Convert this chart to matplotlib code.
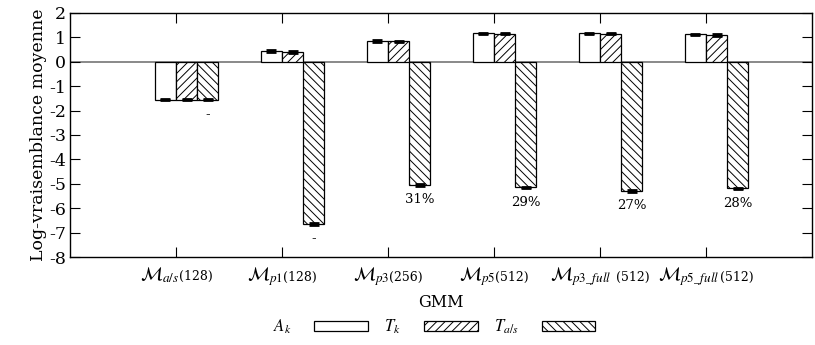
import numpy as np
import matplotlib
matplotlib.use('Agg')
from matplotlib import pyplot as plt
from matplotlib.offsetbox import TextArea, HPacker, AnnotationBbox

plt.rcParams['font.family'] = ['DejaVu Serif']
plt.rcParams['mathtext.fontset'] = 'stix'
plt.rcParams['axes.unicode_minus'] = False
plt.rcParams['hatch.linewidth'] = 0.7

# données
modeles = [r'$\mathcal{M}_{a/s}$', r'$\mathcal{M}_{p1}$', r'$\mathcal{M}_{p3}$',
           r'$\mathcal{M}_{p5}$', r'$\mathcal{M}_{p3\_full}$', r'$\mathcal{M}_{p5\_full}$']
tailles = ['(128)', '(128)', '(256)', '(512)', ' (512)', '(512)']
A_k = [-1.55, 0.45, 0.86, 1.17, 1.16, 1.12]
T_k = [-1.55, 0.40, 0.84, 1.15, 1.15, 1.09]
T_as = [-1.55, -6.64, -5.04, -5.15, -5.29, -5.19]
err = [0.03, 0.03, 0.03, 0.03, 0.03, 0.03]
etiquettes = ['-', '-', '31%', '29%', '27%', '28%']

x = np.arange(1, len(modeles) + 1)
w = 0.2

fig = plt.figure(figsize=(8.15, 3.45), dpi=100)
ax = fig.add_axes([70/815, 1-257/345, 742/815, 244/345])

ax.axhline(0, color='#808080', lw=1.3, zorder=1)
series = [(A_k, '', -0.1, r'$A_k$'), (T_k, '////', 0.1, r'$T_k$'), (T_as, '\\\\\\\\', 0.3, r'$T_{a/s}$')]
for vals, h, off, lab in series:
    ax.bar(x + off, vals, w, color='white', edgecolor='black', linewidth=0.9, hatch=h, label=lab, zorder=2)
    ax.errorbar(x + off, vals, yerr=err, fmt='none', ecolor='black', elinewidth=1,
                capsize=3.8, capthick=2, zorder=3)

for xi, v, t in zip(x, T_as, etiquettes):
    ax.text(xi + 0.3, v - 0.6, t, ha='center', va='center', fontsize=9.5)

ax.set_xlim(0, 7)
ax.set_ylim(-8, 2)
ax.set_yticks(range(-8, 3))
ax.set_xticks(x)
ax.set_xticklabels([])
ax.tick_params(axis='y', labelsize=12.5, direction='in', length=7, right=True, pad=3)
ax.tick_params(axis='x', direction='in', length=7, top=True)

# étiquettes en deux tailles
for xi, m, t in zip(x, modeles, tailles):
    box = HPacker(children=[TextArea(m, textprops=dict(size=13.5)),
                            TextArea(t, textprops=dict(size=9)),],
                  align='baseline', pad=0, sep=0)
    ab = AnnotationBbox(box, (xi, 0), xycoords=('data', 'axes fraction'),
                        xybox=(0, -6), boxcoords='offset points',
                        box_alignment=(0.5, 1), frameon=False, annotation_clip=False)
    ax.add_artist(ab)

ax.set_ylabel('Log-vraisemblance moyenne', fontsize=12.5, labelpad=1)
ax.text(0.5, -0.188, 'GMM', transform=ax.transAxes, ha='center', va='center', fontsize=11.5)
for s in ax.spines.values():
    s.set_linewidth(1)

fig.legend(loc='center', bbox_to_anchor=(434/815, 1-327/345), ncol=3, frameon=False,
           markerfirst=False, handlelength=3.2, handleheight=0.55, columnspacing=1.0,
           handletextpad=1.4, prop={'size': 12})

plt.savefig('out.png', dpi=100)
